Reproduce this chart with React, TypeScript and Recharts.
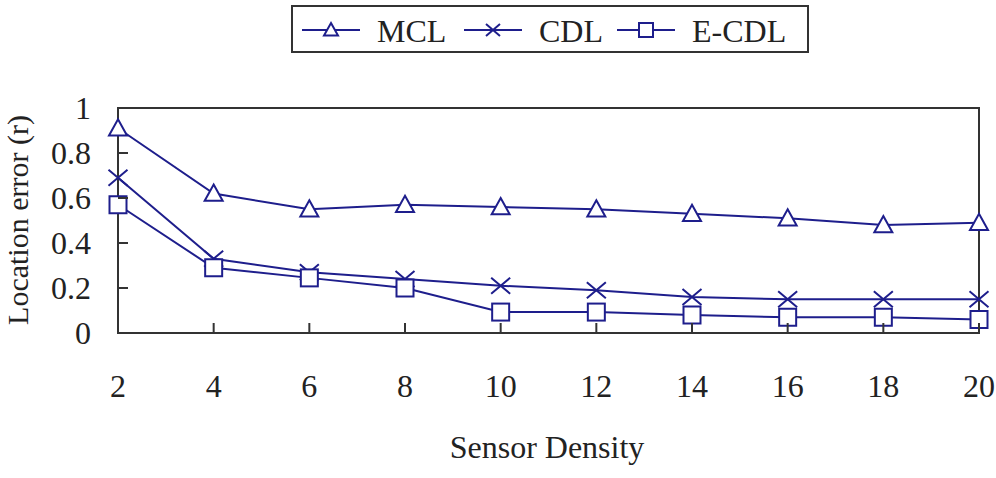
import React from 'react';
import { LineChart, Line, XAxis, YAxis, ReferenceArea } from 'recharts';

document.body.style.margin = '0';

const densities = [2, 4, 6, 8, 10, 12, 14, 16, 18, 20];
const mcl = [0.91, 0.62, 0.55, 0.57, 0.56, 0.55, 0.53, 0.51, 0.48, 0.49];
const cdl = [0.69, 0.33, 0.27, 0.24, 0.21, 0.19, 0.16, 0.15, 0.15, 0.15];
const ecdl = [0.57, 0.29, 0.245, 0.2, 0.093, 0.093, 0.08, 0.07, 0.07, 0.06];
const yTicks = ['0', '0.2', '0.4', '0.6', '0.8', '1'];

const data = densities.map((d, i) => ({ density: d, MCL: mcl[i], CDL: cdl[i], ECDL: ecdl[i] }));

const NAVY = '#1e1e8c';
const AXIS = '#333';
const FONT = '"Liberation Serif", "Times New Roman", serif';

const Triangle = ({ cx, cy, s = 9 }: any) => (
  <path d={`M${cx},${cy - s} L${cx + s},${cy + s * 0.8} L${cx - s},${cy + s * 0.8} Z`}
    fill="#fff" stroke={NAVY} strokeWidth={2} />
);
const Cross = ({ cx, cy, s = 9.5 }: any) => (
  <path d={`M${cx - s},${cy - s * 0.85} L${cx + s},${cy + s * 0.85} M${cx - s},${cy + s * 0.85} L${cx + s},${cy - s * 0.85}`}
    stroke={NAVY} strokeWidth={2} fill="none" />
);
const Square = ({ cx, cy, s = 8.5 }: any) => (
  <rect x={cx - s} y={cy - s} width={s * 2} height={s * 2} fill="#fff" stroke={NAVY} strokeWidth={2} />
);

const XTick = ({ x, y, payload }: any) => (
  <g>
    <line x1={x} y1={y} x2={x} y2={y - 10} stroke={AXIS} strokeWidth={2} />
    <text x={x} y={y + 53} textAnchor="middle" dominantBaseline="central" fontSize={32} fontFamily={FONT} fill="#222">
      {payload.value}
    </text>
  </g>
);

const YTick = ({ x, y, payload }: any) => (
  <g>
    <line x1={x} y1={y} x2={x + 10} y2={y} stroke={AXIS} strokeWidth={2} />
    <text x={x - 27} y={y} textAnchor="end" dominantBaseline="central" fontSize={32} fontFamily={FONT} fill="#222">
      {payload.value}
    </text>
  </g>
);

const items = [
  { name: 'MCL', Mark: Triangle },
  { name: 'CDL', Mark: Cross },
  { name: 'E-CDL', Mark: Square },
];

// legend box above the plot
const LegendBox = () => (
  <g transform="translate(291,5)">
    <rect x={1} y={1} width={516} height={46} fill="#fff" stroke={AXIS} strokeWidth={2} />
    {items.map((it, i) => {
      const x0 = [11, 173, 326][i];
      return (
        <g key={it.name}>
          <line x1={x0} y1={25} x2={x0 + 58} y2={25} stroke={NAVY} strokeWidth={2} />
          <it.Mark cx={x0 + 29} cy={25} s={7} />
          <text x={x0 + 75} y={26} dominantBaseline="central" fontSize={32} fontFamily={FONT} fill="#222">
            {it.name}
          </text>
        </g>
      );
    })}
  </g>
);

export default function App() {
  return (
    <div style={{ position: 'relative', width: 996, height: 478 }}>
      <LineChart width={996} height={478} data={data} margin={{ top: 108, right: 17, left: 58, bottom: 85 }}>
        <ReferenceArea x1={2} x2={20} y1={0} y2={1} fill="none" stroke={AXIS} strokeWidth={2} strokeOpacity={1} ifOverflow="visible" />
        <XAxis dataKey="density" type="category" height={60} tickSize={0} tickMargin={0} tickLine={false}
          axisLine={{ stroke: AXIS, strokeWidth: 2 }} tick={<XTick />} interval={0} />
        <YAxis type="number" domain={[0, 1]} ticks={yTicks.map(Number)} tickFormatter={(v: number) => yTicks[Math.round(v * 5)]}
          width={60} tickSize={0} tickMargin={0} tickLine={false} axisLine={{ stroke: AXIS, strokeWidth: 2 }} tick={<YTick />} />
        <Line dataKey="MCL" stroke={NAVY} strokeWidth={2} isAnimationActive={false}
          dot={(p: any) => <Triangle key={`t${p.index}`} cx={p.cx} cy={p.cy} />} />
        <Line dataKey="CDL" stroke={NAVY} strokeWidth={2} isAnimationActive={false}
          dot={(p: any) => <Cross key={`c${p.index}`} cx={p.cx} cy={p.cy} />} />
        <Line dataKey="ECDL" name="E-CDL" stroke={NAVY} strokeWidth={2} isAnimationActive={false}
          dot={(p: any) => <Square key={`s${p.index}`} cx={p.cx} cy={p.cy} />} />
      </LineChart>
      <svg width={996} height={478} style={{ position: 'absolute', left: 0, top: 0, pointerEvents: 'none' }}>
        <LegendBox />
        <text x={547} y={447} textAnchor="middle" dominantBaseline="central" fontSize={32} fontFamily={FONT} fill="#222">
          Sensor Density
        </text>
        <text x={28} y={220} transform="rotate(-90 28 220)" textAnchor="middle" fontSize={30} fontFamily={FONT} fill="#222">
          Location error (r)
        </text>
      </svg>
    </div>
  );
}
